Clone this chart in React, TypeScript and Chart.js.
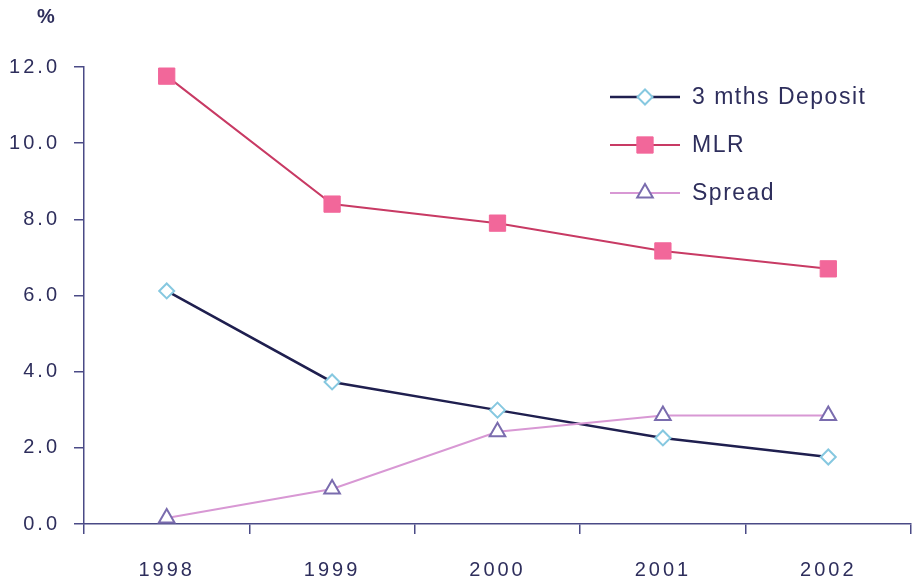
import React, { useEffect, useRef } from "react";
import { Chart, registerables } from "chart.js";

Chart.register(...registerables);

const years = ["1998", "1999", "2000", "2001", "2002"];
const depositValues = [6.12, 3.73, 2.99, 2.26, 1.76];
const mlrValues = [11.76, 8.4, 7.9, 7.17, 6.7];
const spreadValues = [0.16, 0.92, 2.42, 2.85, 2.85];
const seriesNames = ["3 mths Deposit", "MLR", "Spread"];
const yTickMin = 0;
const yTickMax = 12;
const yTickStep = 2;
const unitLabel = "%";

const TEXT = "#2e2e5c";
const AXIS = "#4a4a86";
const FONT = "'Liberation Sans', Arial, sans-serif";

function drawMarker(ctx: CanvasRenderingContext2D, kind: string, r: number, x: number, y: number) {
  ctx.beginPath();
  if (kind === "rectRot") {
    ctx.moveTo(x - r, y);
    ctx.lineTo(x, y - r);
    ctx.lineTo(x + r, y);
    ctx.lineTo(x, y + r);
    ctx.closePath();
  } else if (kind === "rect") {
    const h = r * Math.SQRT1_2;
    ctx.rect(x - h, y - h, 2 * h, 2 * h);
  } else {
    const a = (2 * Math.PI) / 3;
    ctx.moveTo(x, y - r);
    ctx.lineTo(x + Math.sin(a) * r, y - Math.cos(a) * r);
    ctx.lineTo(x + Math.sin(2 * a) * r, y - Math.cos(2 * a) * r);
    ctx.closePath();
  }
  ctx.fill();
  ctx.stroke();
}

export default function App() {
  const ref = useRef<HTMLCanvasElement | null>(null);

  useEffect(() => {
    if (!ref.current) return;
    const styles = [
      { line: "#1f1f4f", width: 2.5, point: "rectRot", radius: 7.5, fill: "#ffffff", border: "#86c8e0", bw: 2 },
      { line: "#c83a64", width: 2, point: "rect", radius: 11.5, fill: "#f2679a", border: "#f2679a", bw: 1 },
      { line: "#d898d4", width: 2, point: "triangle", radius: 9, fill: "#ffffff", border: "#7a6cae", bw: 2 },
    ];
    const values = [depositValues, mlrValues, spreadValues];

    const extras = {
      id: "extras",
      beforeDraw(chart: any) {
        chart.ctx.letterSpacing = "3px";
      },
      afterDraw(chart: any) {
        const ctx = chart.ctx as CanvasRenderingContext2D;
        ctx.save();
        (ctx as any).letterSpacing = "0px";
        ctx.fillStyle = TEXT;
        ctx.font = `bold 20px ${FONT}`;
        ctx.textAlign = "center";
        ctx.textBaseline = "middle";
        ctx.fillText(unitLabel, 46, 17);
        const rows = [97, 145, 193];
        seriesNames.forEach((name, i) => {
          const s = styles[i];
          const y = rows[i];
          ctx.strokeStyle = s.line;
          ctx.lineWidth = s.width;
          ctx.beginPath();
          ctx.moveTo(610, y);
          ctx.lineTo(680, y);
          ctx.stroke();
          ctx.fillStyle = s.fill;
          ctx.strokeStyle = s.border;
          ctx.lineWidth = s.bw;
          drawMarker(ctx, s.point, s.radius, 645, y);
          ctx.fillStyle = TEXT;
          (ctx as any).letterSpacing = "1.5px";
          ctx.font = `23px ${FONT}`;
          ctx.textAlign = "left";
          ctx.textBaseline = "middle";
          ctx.fillText(name, 692, y + 1);
        });
        ctx.restore();
      },
    };

    const chart = new Chart(ref.current, {
      type: "line",
      data: {
        labels: years,
        datasets: seriesNames.map((name, i) => ({
          label: name,
          data: values[i],
          borderColor: styles[i].line,
          borderWidth: styles[i].width,
          pointStyle: styles[i].point as any,
          pointRadius: styles[i].radius,
          pointBackgroundColor: styles[i].fill,
          pointBorderColor: styles[i].border,
          pointBorderWidth: styles[i].bw,
          tension: 0,
          fill: false,
          order: i === 2 ? 0 : i + 1,
        })),
      },
      options: {
        animation: false,
        responsive: true,
        maintainAspectRatio: false,
        layout: { autoPadding: false, padding: { top: 67, right: 3, left: 0, bottom: 0 } },
        plugins: { legend: { display: false }, tooltip: { enabled: false } },
        scales: {
          x: {
            offset: true,
            grid: { display: true, drawOnChartArea: false, drawTicks: true, tickLength: 10, color: AXIS, lineWidth: 1.5, offset: true },
            border: { display: true, color: AXIS, width: 1.5 },
            ticks: { color: TEXT, font: { family: FONT, size: 20 }, padding: 24, maxRotation: 0 },
            afterFit: (s: any) => {
              s.height = 63;
              s.paddingLeft = 0;
              s.paddingRight = 0;
            },
          },
          y: {
            min: yTickMin,
            max: yTickMax,
            grid: { display: true, drawOnChartArea: false, drawTicks: true, tickLength: 10, color: AXIS, lineWidth: 1.5 },
            border: { display: true, color: AXIS, width: 1.5 },
            ticks: {
              stepSize: yTickStep,
              color: TEXT,
              font: { family: FONT, size: 20 },
              padding: 14,
              callback: (v: any) => Number(v).toFixed(1),
            },
            afterFit: (s: any) => {
              s.width = 84;
              s.paddingTop = 0;
              s.paddingBottom = 0;
            },
          },
        },
      },
      plugins: [extras],
    });
    return () => chart.destroy();
  }, []);

  return (
    <div style={{ position: "fixed", left: 0, top: 0, width: 914, height: 587, background: "#ffffff" }}>
      <canvas ref={ref} />
    </div>
  );
}
